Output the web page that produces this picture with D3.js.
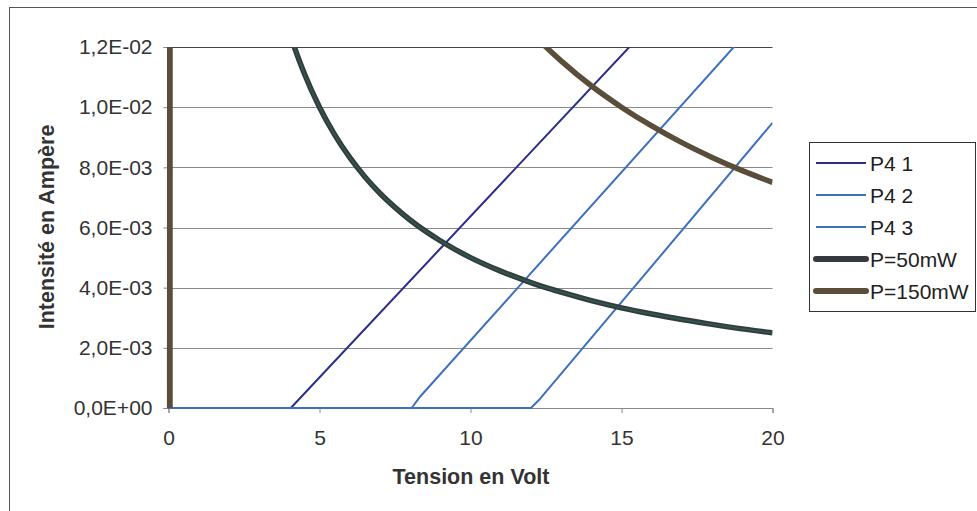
<!DOCTYPE html>
<html>
<head>
<meta charset="utf-8">
<script src="https://cdn.jsdelivr.net/npm/d3@7/dist/d3.min.js"></script>
<style>
  html, body { margin: 0; padding: 0; background: #fff; }
  svg { display: block; font-family: "Liberation Sans", Arial, Helvetica, sans-serif; }
</style>
</head>
<body>
<svg id="chart" width="977" height="511"></svg>
<script>
// ---- data ----
const xTicks = [0, 5, 10, 15, 20];
const xTickLabels = ["0", "5", "10", "15", "20"];
const yTicks = [0, 0.002, 0.004, 0.006, 0.008, 0.010, 0.012];
const yTickLabels = ["0,0E+00", "2,0E-03", "4,0E-03", "6,0E-03", "8,0E-03", "1,0E-02", "1,2E-02"];

const p41V = [0, 4.05, 15.26, 17];
const p41I = [0, 0, 0.012, 0.0138];
const p42V = [0, 8.05, 8.35, 18.72, 20];
const p42I = [0, 0, 0.0004, 0.012, 0.01344];
const p43V = [0, 12.0, 12.3, 20];
const p43I = [0, 0, 0.0003, 0.00948];

const powV = [0.04, 0.1, 1, 2, 3, 3.5, 4, 4.5, 5, 5.5, 6, 6.5, 7, 7.5, 8, 9, 10, 11, 12, 12.5, 13, 14, 15, 16, 17, 18, 19, 20];
const p50I = [0, 0.5, 0.05, 0.025, 0.01667, 0.01429, 0.0125, 0.01111, 0.01, 0.00909, 0.00833, 0.00769, 0.00714, 0.00667, 0.00625, 0.00556, 0.005, 0.00455, 0.00417, 0.004, 0.00385, 0.00357, 0.00333, 0.003125, 0.00294, 0.00278, 0.00263, 0.0025];
const p150I = [0, 1.5, 0.15, 0.075, 0.05, 0.04286, 0.0375, 0.03333, 0.03, 0.02727, 0.025, 0.02308, 0.02143, 0.02, 0.01875, 0.01667, 0.015, 0.01364, 0.0125, 0.012, 0.01154, 0.01071, 0.01, 0.009375, 0.00882, 0.00833, 0.00789, 0.0075];

const seriesNames = ["P4 1", "P4 2", "P4 3", "P=50mW", "P=150mW"];
const seriesColors = ["#2c2c8e", "#3e70bf", "#3e70bf", "#353a40", "#5a4e3a"];
const seriesWidths = [2, 2, 2, 5.5, 5.5];

// ---- build ----
const zip = (vs, is) => vs.map((v, i) => [v, is[i]]);
const series = [
  zip(p41V, p41I), zip(p42V, p42I), zip(p43V, p43I), zip(powV, p50I), zip(powV, p150I)
];

const svg = d3.select("#chart");
const L = 168.5, R = 772.5, T = 47, B = 408;
const x = d3.scaleLinear().domain([0, 20]).range([L, R]);
const y = d3.scaleLinear().domain([0, 0.012]).range([B, T]);

// outer border
svg.append("rect").attr("x", 9.5).attr("y", 7.5).attr("width", 1000).attr("height", 1000)
  .attr("fill", "none").attr("stroke", "#555").attr("stroke-width", 1);

// gridlines
svg.append("g").selectAll("line").data(yTicks.filter(d => d > 0)).join("line")
  .attr("x1", L).attr("x2", R)
  .attr("y1", d => Math.round(y(d)) + 0.5).attr("y2", d => Math.round(y(d)) + 0.5)
  .attr("stroke", (d, i, a) => i === a.length - 1 ? "#444" : "#8a8a8a").attr("stroke-width", 1);

// axes
const fs = 21, fsb = 21.5;
const yAxis = d3.axisLeft(y).tickValues(yTicks).tickSize(5).tickPadding(11)
  .tickFormat((d, i) => yTickLabels[i]);
const gy = svg.append("g").attr("transform", `translate(${L},0)`).call(yAxis);
gy.select(".domain").attr("stroke", "#888");
gy.selectAll(".tick line").attr("stroke", "#888");
gy.selectAll(".tick text").attr("fill", "#333").style("font-size", fs + "px")
  .style("font-family", "'Liberation Sans', Arial, sans-serif");

const xAxis = d3.axisBottom(x).tickValues(xTicks).tickSize(5).tickPadding(17)
  .tickFormat((d, i) => xTickLabels[i]);
const gx = svg.append("g").attr("transform", `translate(0,${B})`).call(xAxis);
gx.select(".domain").attr("stroke", "#888");
gx.selectAll(".tick line").attr("stroke", "#888");
gx.selectAll(".tick text").attr("fill", "#333").style("font-size", fs + "px")
  .style("font-family", "'Liberation Sans', Arial, sans-serif");

// clip
svg.append("clipPath").attr("id", "clip").append("rect")
  .attr("x", L - 5).attr("y", T).attr("width", R - L + 5).attr("height", B - T + 3);

const line = d3.line().x(d => x(d[0])).y(d => y(d[1]));
const curve = d3.line().x(d => x(d[0])).y(d => y(d[1])).curve(d3.curveMonotoneX);

const plot = svg.append("g").attr("clip-path", "url(#clip)");
series.forEach((s, i) => {
  const gen = i >= 3 ? curve : line;
  plot.append("path").attr("d", gen(s)).attr("fill", "none")
    .attr("stroke", seriesColors[i]).attr("stroke-width", seriesWidths[i])
    .attr("stroke-linejoin", "round");
  if (i === 3) {
    plot.append("path").attr("d", gen(s)).attr("fill", "none")
      .attr("stroke", "#2d5a48").attr("stroke-width", 1.8);
  }
});

// axis titles
svg.append("text").attr("x", 471).attr("y", 484).attr("text-anchor", "middle")
  .attr("font-weight", "bold").attr("font-size", fsb).attr("fill", "#333")
  .text("Tension en Volt");
svg.append("text").attr("transform", "translate(54,227) rotate(-90)").attr("text-anchor", "middle")
  .attr("font-weight", "bold").attr("font-size", fsb).attr("fill", "#333")
  .text("Intensité en Ampère");

// legend
const lg = svg.append("g");
lg.append("rect").attr("x", 809.5).attr("y", 142.5).attr("width", 166).attr("height", 169)
  .attr("fill", "#fff").attr("stroke", "#333").attr("stroke-width", 1);
seriesNames.forEach((name, i) => {
  const cy = 163 + i * 32;
  const thick = seriesWidths[i] > 3;
  lg.append("line").attr("x1", thick ? 816 : 816).attr("x2", thick ? 866 : 866)
    .attr("y1", cy).attr("y2", cy)
    .attr("stroke", seriesColors[i]).attr("stroke-width", thick ? 6 : 2)
    .attr("stroke-linecap", thick ? "round" : "butt");
  lg.append("text").attr("x", 870).attr("y", cy + 7.5).attr("font-size", fs).attr("fill", "#222")
    .text(name);
});
</script>
</body>
</html>
